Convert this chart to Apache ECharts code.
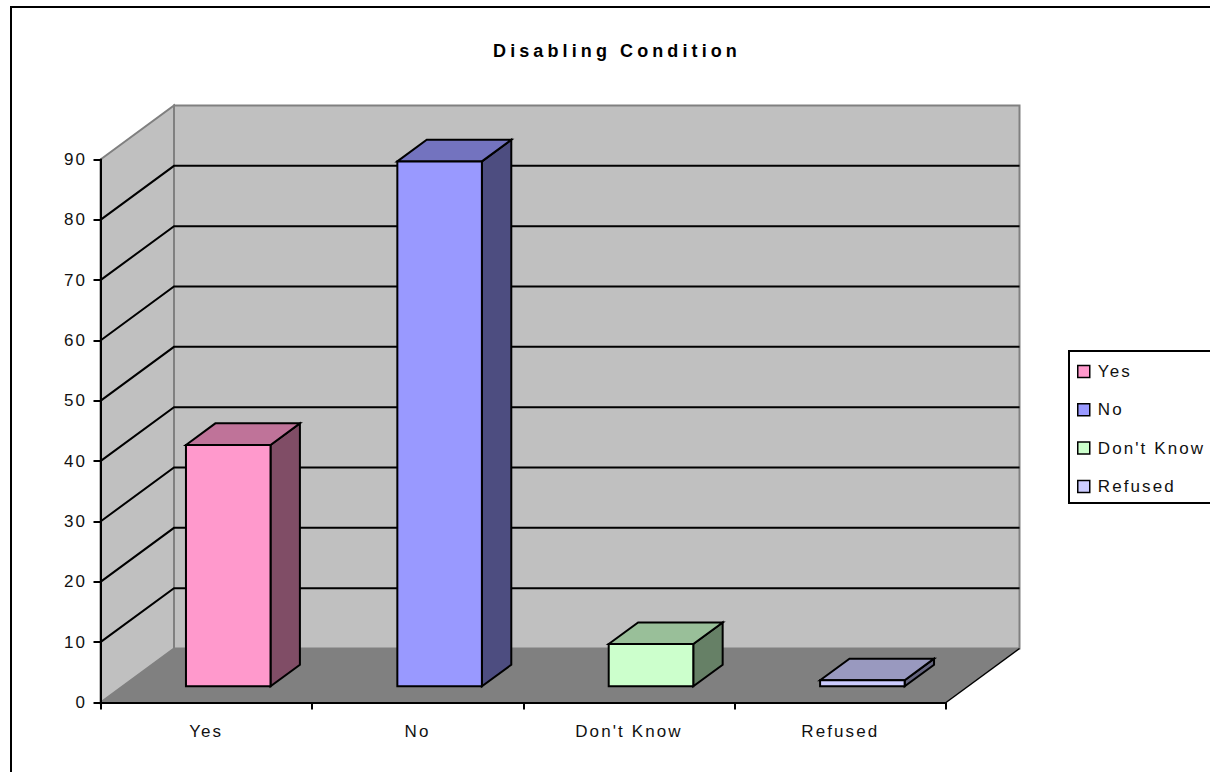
<!DOCTYPE html>
<html>
<head>
<meta charset="utf-8">
<title>Disabling Condition</title>
<style>
  html, body { margin: 0; padding: 0; background: #fff; overflow: hidden; }
  #chart { width: 1210px; height: 772px; }
  /* old Excel export has wide letter spacing; svg renderer lets css do that */
  #chart text { letter-spacing: 2.1px; }
  #chart text[style*="bold"] { letter-spacing: 4.1px; }
</style>
<script src="https://cdn.jsdelivr.net/npm/echarts@6/dist/echarts.min.js"></script>
</head>
<body>
<div id="chart"></div>
<script>
const categories = ['Yes', 'No', "Don't Know", 'Refused'];
const values = [40, 87, 7, 1];
const frontColors = ['#FF99CC', '#9999FF', '#CCFFCC', '#CCCCFF'];
const topColors = ['#BF7399', '#7373BF', '#99BF99', '#9999BF'];
const sideColors = ['#804D66', '#4D4D80', '#668066', '#666680'];
// the top of the wall (90) has a grey edge, not a gridline
const gridTicks = [10, 20, 30, 40, 50, 60, 70, 80];
const yMax = 90;

// depth of the fake 3d box, in pixels
const depthX = 73.5;
const depthY = -54;
const barWidthRatio = 0.4;
const barFrontDepth = 0.3;
const barBackDepth = 0.7;

function renderWalls(params, api) {
  const cs = params.coordSys;
  const left = cs.x;
  const right = cs.x + cs.width;
  const top = api.coord([0, yMax])[1];
  const bottom = api.coord([0, 0])[1];
  const edge = {stroke: '#808080', lineWidth: 2};
  return {
    type: 'group',
    children: [
      {
        type: 'polygon',
        shape: {points: [[left + depthX, top + depthY], [right + depthX, top + depthY], [right + depthX, bottom + depthY], [left + depthX, bottom + depthY]]},
        style: {fill: '#C0C0C0', ...edge}
      },
      {
        type: 'polygon',
        shape: {points: [[left, top], [left + depthX, top + depthY], [left + depthX, bottom + depthY], [left, bottom]]},
        style: {fill: '#C0C0C0', ...edge}
      },
      {
        type: 'polygon',
        shape: {points: [[left, bottom], [left + depthX, bottom + depthY], [right + depthX, bottom + depthY], [right, bottom]]},
        style: {fill: '#808080', stroke: null}
      },
      {
        type: 'line',
        shape: {x1: right, y1: bottom, x2: right + depthX, y2: bottom + depthY},
        style: {stroke: '#000', lineWidth: 1.5}
      }
    ]
  };
}

function renderGridLine(params, api) {
  const cs = params.coordSys;
  const y = api.coord([0, api.value(1)])[1];
  return {
    type: 'polyline',
    shape: {points: [[cs.x, y], [cs.x + depthX, y + depthY], [cs.x + cs.width + depthX, y + depthY]]},
    style: {fill: null, stroke: '#000', lineWidth: 2}
  };
}

function makeBarRenderer(index) {
  return function (params, api) {
    const center = api.coord([api.value(0), 0])[0];
    const base = api.coord([api.value(0), 0])[1];
    const top = api.coord([api.value(0), api.value(1)])[1];
    const halfWidth = api.size([1, 0])[0] * barWidthRatio / 2;
    const x1 = center - halfWidth + depthX * barFrontDepth;
    const x2 = center + halfWidth + depthX * barFrontDepth;
    const shift = depthY * barFrontDepth;
    const yTop = top + shift;
    const yBase = base + shift;
    const dx = depthX * (barBackDepth - barFrontDepth);
    const dy = depthY * (barBackDepth - barFrontDepth);
    const line = {stroke: '#000', lineWidth: 2, lineJoin: 'miter'};
    return {
      type: 'group',
      children: [
        {
          type: 'polygon',
          shape: {points: [[x2, yTop], [x2 + dx, yTop + dy], [x2 + dx, yBase + dy], [x2, yBase]]},
          style: {fill: sideColors[index], ...line}
        },
        {
          type: 'polygon',
          shape: {points: [[x1, yTop], [x1 + dx, yTop + dy], [x2 + dx, yTop + dy], [x2, yTop]]},
          style: {fill: topColors[index], ...line}
        },
        {
          type: 'polygon',
          shape: {points: [[x1, yTop], [x2, yTop], [x2, yBase], [x1, yBase]]},
          style: {fill: frontColors[index], ...line}
        }
      ]
    };
  };
}

const labelFont = {fontFamily: '"Liberation Sans", Arial, sans-serif', fontSize: 17, color: '#111'};

const chart = echarts.init(document.getElementById('chart'), null, {renderer: 'svg'});

chart.setOption({
  animation: false,
  backgroundColor: '#fff',
  title: {
    text: 'Disabling Condition',
    left: 612,
    top: 37,
    textAlign: 'center',
    textStyle: {...labelFont, color: '#000', fontSize: 18, fontWeight: 'bold'}
  },
  graphic: [{
    type: 'rect',
    z: -1,
    shape: {x: 11, y: 7, width: 1300, height: 800},
    style: {fill: '#fff', stroke: '#000', lineWidth: 2}
  }],
  grid: {left: 100.5, top: 159.5, width: 845.5, height: 543},
  xAxis: {
    type: 'category',
    data: categories,
    z: 10,
    axisLine: {lineStyle: {color: '#000', width: 2}},
    axisTick: {show: true, alignWithLabel: false, length: 7, lineStyle: {color: '#000', width: 2}},
    axisLabel: {...labelFont, margin: 20},
    splitLine: {show: false}
  },
  yAxis: {
    type: 'value',
    min: 0,
    max: yMax,
    interval: 10,
    z: 10,
    axisLine: {show: true, lineStyle: {color: '#000', width: 2}},
    axisTick: {show: true, length: 7, lineStyle: {color: '#000', width: 2}},
    axisLabel: {...labelFont, margin: 13.5},
    splitLine: {show: false}
  },
  legend: {
    orient: 'vertical',
    left: 1069,
    top: 351,
    data: categories,
    icon: 'rect',
    itemWidth: 12,
    itemHeight: 12,
    itemGap: 21.3,
    padding: [12, 70, 8, 8],
    backgroundColor: '#fff',
    borderColor: '#000',
    borderWidth: 2,
    selectedMode: false,
    itemStyle: {borderColor: '#000', borderWidth: 1.5},
    textStyle: {...labelFont, padding: [0, 0, 0, 3], lineHeight: 16}
  },
  series: [
    {
      type: 'custom',
      name: 'walls',
      z: 1,
      silent: true,
      renderItem: renderWalls,
      data: [[0, yMax]]
    },
    {
      type: 'custom',
      name: 'gridlines',
      z: 2,
      silent: true,
      renderItem: renderGridLine,
      data: gridTicks.map(t => [0, t])
    },
    ...categories.map((name, i) => ({
      type: 'custom',
      name: name,
      z: 3,
      renderItem: makeBarRenderer(i),
      itemStyle: {color: frontColors[i]},
      data: [[i, values[i]]]
    }))
  ]
});
</script>
</body>
</html>
